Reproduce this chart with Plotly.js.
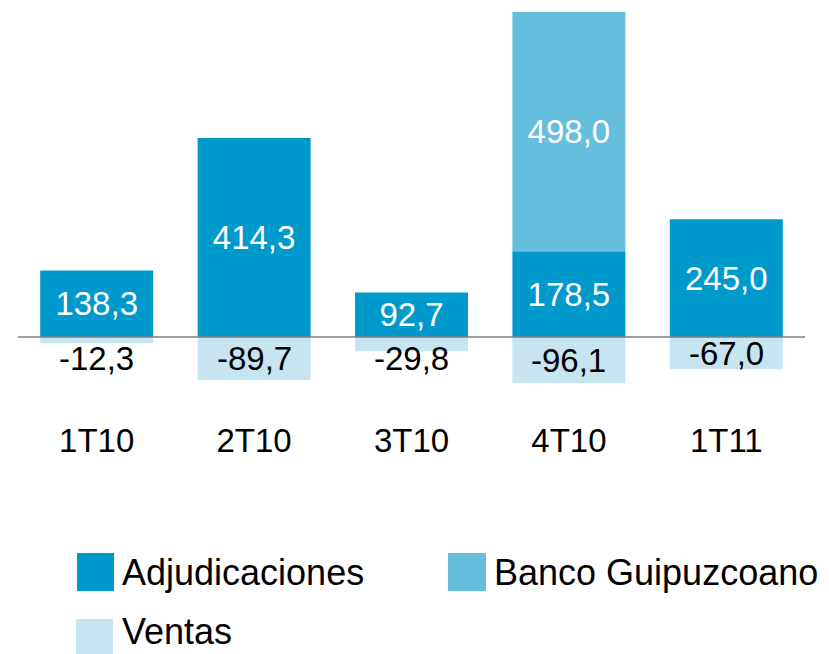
<!DOCTYPE html>
<html>
<head>
<meta charset="utf-8">
<script src="https://cdn.plot.ly/plotly-3.0.1.min.js"></script>
<style>html,body{margin:0;padding:0;background:#fff;}#chart{width:829px;height:654px;}</style>
</head>
<body>
<div id="chart"></div>
<script>
// ---- data ----
var categories = ['1T10', '2T10', '3T10', '4T10', '1T11'];
var seriesNames = ['Adjudicaciones', 'Banco Guipuzcoano', 'Ventas'];
var adjudicaciones = [138.3, 414.3, 92.7, 178.5, 245.0];
var bancoGuipuzcoano = [null, null, null, 498.0, null];
var ventas = [-12.3, -89.7, -29.8, -96.1, -67.0];
var colors = ['#0099CC', '#66BEDD', '#C7E5F0'];

// ---- layout geometry ----
var W = 829, H = 654;
var M = {l: 18, r: 24, t: 12, b: 236};
var PW = W - M.l - M.r, PH = H - M.t - M.b;
function px(x) { return (x - M.l) / PW; }
function py(y) { return (H - M.b - y) / PH; }
var FONT = 'Liberation Sans, Arial, sans-serif';

function fmt(v) { return v.toFixed(1).replace('.', ','); }

var traces = [
  {type: 'bar', name: seriesNames[0], x: categories, y: adjudicaciones,
   marker: {color: colors[0]}, text: adjudicaciones.map(fmt),
   textposition: 'inside', insidetextanchor: 'middle', constraintext: 'none', textangle: 0,
   textfont: {family: FONT, size: 33, color: '#ffffff'}, hoverinfo: 'skip'},
  {type: 'bar', name: seriesNames[1], x: categories, y: bancoGuipuzcoano,
   marker: {color: colors[1]}, text: bancoGuipuzcoano.map(function(v){return v==null?'':fmt(v);}),
   textposition: 'inside', insidetextanchor: 'middle', constraintext: 'none', textangle: 0,
   textfont: {family: FONT, size: 33, color: '#ffffff'}, hoverinfo: 'skip'},
  {type: 'bar', name: seriesNames[2], x: categories, y: ventas,
   marker: {color: colors[2]}, hoverinfo: 'skip'}
];

var annotations = [];
categories.forEach(function(c, i) {
  var v = ventas[i];
  var yy = Math.abs(v / 2) < 20 ? -45 : v / 2;
  annotations.push({x: c, y: yy, xref: 'x', yref: 'y', text: fmt(v), showarrow: false,
    xanchor: 'center', yanchor: 'middle', font: {family: FONT, size: 33, color: '#000000'}});
});

// manual legend
var legendItems = [
  {sq: [77, 553, 114, 591], tx: 120, ty: 572},
  {sq: [448, 553, 486, 591], tx: 492, ty: 572},
  {sq: [76, 619, 113, 657], tx: 120, ty: 631}
];
var shapes = [
  {type: 'line', xref: 'paper', yref: 'y', x0: 0, x1: 1, y0: 0, y1: 0,
   line: {color: '#7F7F7F', width: 1.5}, layer: 'above'}
];
legendItems.forEach(function(it, i) {
  shapes.push({type: 'rect', xref: 'paper', yref: 'paper',
    x0: px(it.sq[0]), x1: px(it.sq[2]), y0: py(it.sq[3]), y1: py(it.sq[1]),
    fillcolor: colors[i], line: {width: 0}});
  annotations.push({xref: 'paper', yref: 'paper', x: px(it.tx), y: py(it.ty),
    xanchor: 'left', yanchor: 'middle', text: seriesNames[i], showarrow: false,
    font: {family: FONT, size: 36, color: '#000000'}});
});

var layout = {
  width: W, height: H,
  margin: M,
  paper_bgcolor: '#ffffff', plot_bgcolor: '#ffffff',
  barmode: 'relative', bargap: 0.282,
  showlegend: false,
  font: {family: FONT, color: '#000000'},
  xaxis: {type: 'category', showgrid: false, zeroline: false, showline: false, ticks: '',
    tickfont: {family: FONT, size: 33, color: '#000000'}, fixedrange: true},
  yaxis: {range: [-168.6, 676.5], showgrid: false, zeroline: false, showline: false,
    showticklabels: false, ticks: '', fixedrange: true},
  shapes: shapes,
  annotations: annotations
};

Plotly.newPlot('chart', traces, layout, {displayModeBar: false, staticPlot: true});
</script>
</body>
</html>
